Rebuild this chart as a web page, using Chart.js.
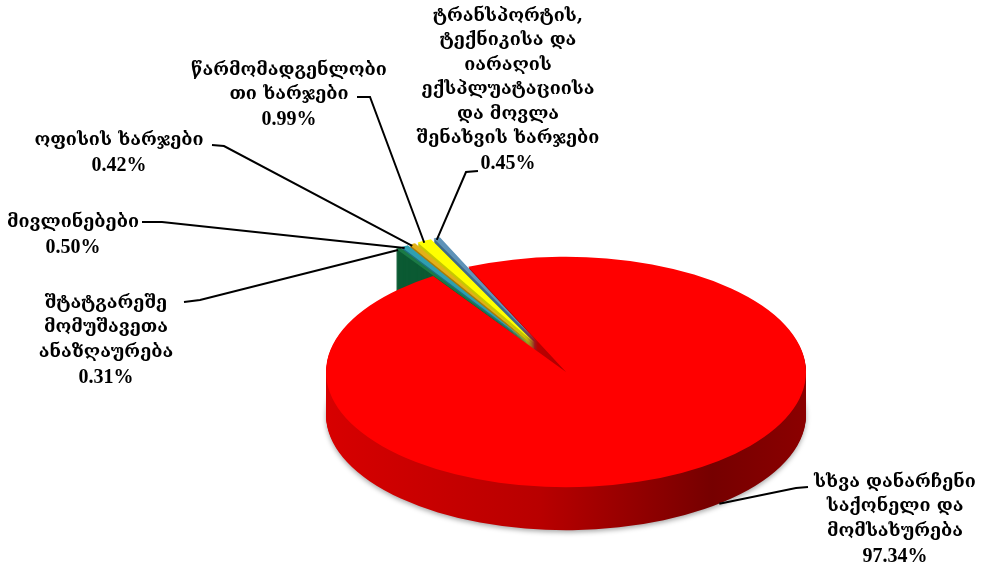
<!DOCTYPE html>
<html>
<head>
<meta charset="utf-8">
<script src="https://cdn.jsdelivr.net/npm/chart.js@4.4.1/dist/chart.umd.min.js"></script>
<style>
  html, body { margin: 0; padding: 0; background: #fff; }
  #caixa { width: 981px; height: 569px; }
</style>
</head>
<body>
<div id="caixa"><canvas id="grafico" width="981" height="569"></canvas></div>
<script>
// dados
const categorias = [
    ['სხვა დანარჩენი', 'საქონელი და', 'მომსახურება'],
    ['შტატგარეშე', 'მომუშავეთა', 'ანაზღაურება'],
    ['მივლინებები'],
    ['ოფისის ხარჯები'],
    ['წარმომადგენლობი', 'თი ხარჯები'],
    ['ტრანსპორტის,', 'ტექნიკისა და', 'იარაღის', 'ექსპლუატაციისა', 'და მოვლა', 'შენახვის ხარჯები']
];
const valores = [97.34, 0.31, 0.50, 0.42, 0.99, 0.45];
const rotulos = valores.map(v => v.toFixed(2) + '%');

// cores do topo e da lateral
const cores = ['#ff0000', '#1b7a45', '#2f9fb0', '#e2b018', '#ffff00', '#5f93b8'];
const coresLado = ['#b00000', '#0b5a33', '#1e7280', '#a87c08', '#c8c800', '#3f6a8a'];

// aparência 3D
const ACHATAMENTO = 0.48;
const PROFUNDIDADE = 43;
const CENTRO_Y = 372;
const afastamento = [0, 68, 68, 68, 68, 68];

// posição dos rótulos: centro do texto, y da 1ª linha, início e cotovelo da linha guia
const posRotulos = [
    { x: 895, y: 482, p0: [808, 487], p1: [796, 488] },
    { x: 106, y: 303, p0: [184, 302], p1: [200, 300] },
    { x: 73,  y: 222, p0: [142, 222], p1: [162, 222] },
    { x: 119, y: 140, p0: [212, 145], p1: [224, 146] },
    { x: 289, y: 70,  p0: [357, 97],  p1: [370, 97] },
    { x: 508, y: 16,  p0: [478, 171], p1: [466, 172] }
];
const ALTURA_LINHA = 24.5;

function perspectiva(ctx, centro, dy) {
    ctx.translate(0, CENTRO_Y + dy);
    ctx.scale(1, ACHATAMENTO);
    ctx.translate(0, -centro.y);
}

function geometria(a, i) {
    const p = a.getProps(['x', 'y', 'startAngle', 'endAngle', 'outerRadius']);
    const meio = (p.startAngle + p.endAngle) / 2;
    p.meio = meio;
    p.dx = Math.cos(meio) * afastamento[i];
    p.dy = Math.sin(meio) * afastamento[i];
    return p;
}

function ladoGradiente(ctx) {
    const g = ctx.createLinearGradient(320, 0, 810, 0);
    g.addColorStop(0, '#d80000');
    g.addColorStop(0.45, '#b80000');
    g.addColorStop(0.8, '#760000');
    g.addColorStop(1, '#8c0000');
    return g;
}

function desenharLado(ctx, a, i) {
    const p = geometria(a, i);
    for (let d = PROFUNDIDADE; d > 0; d--) {
        ctx.save();
        if (d === PROFUNDIDADE && i === 0) {
            ctx.shadowColor = 'rgba(0,0,0,0.35)';
            ctx.shadowBlur = 5;
            ctx.shadowOffsetY = 2;
        }
        perspectiva(ctx, p, d);
        ctx.fillStyle = i === 0 ? ladoGradiente(ctx) : coresLado[i];
        ctx.beginPath();
        ctx.moveTo(p.x + p.dx, p.y + p.dy);
        ctx.arc(p.x + p.dx, p.y + p.dy, p.outerRadius, p.startAngle, p.endAngle);
        ctx.closePath();
        ctx.fill();
        ctx.restore();
    }
}

function desenharTopo(ctx, a, i) {
    const p = geometria(a, i);
    ctx.save();
    perspectiva(ctx, p, 0);
    ctx.translate(p.dx, p.dy);
    a.draw(ctx);
    ctx.restore();
}

const pizza3d = {
    id: 'pizza3d',
    beforeDatasetsDraw(chart) {
        const ctx = chart.ctx;
        const arcs = chart.getDatasetMeta(0).data;
        desenharLado(ctx, arcs[0], 0);
        for (let i = arcs.length - 1; i >= 1; i--) desenharLado(ctx, arcs[i], i);
        desenharTopo(ctx, arcs[0], 0);
        for (let i = 1; i < arcs.length; i++) desenharTopo(ctx, arcs[i], i);
        return false;
    },
    afterDraw(chart) {
        const ctx = chart.ctx;
        const arcs = chart.getDatasetMeta(0).data;
        ctx.save();
        arcs.forEach((a, i) => {
            const p = geometria(a, i);
            const r = i === 0 ? p.outerRadius : p.outerRadius + afastamento[i];
            const ang = i === 0 ? p.meio - 0.19 : p.meio;
            const ex = p.x + Math.cos(ang) * r;
            const ey = CENTRO_Y + Math.sin(ang) * r * ACHATAMENTO + (i === 0 ? PROFUNDIDADE : 2);
            const pos = posRotulos[i];
            ctx.strokeStyle = '#000';
            ctx.lineWidth = 2;
            ctx.beginPath();
            ctx.moveTo(pos.p0[0], pos.p0[1]);
            ctx.lineTo(pos.p1[0], pos.p1[1]);
            ctx.lineTo(ex, ey);
            ctx.stroke();

            ctx.fillStyle = '#000';
            ctx.textAlign = 'center';
            ctx.textBaseline = 'middle';
            const linhas = categorias[i];
            ctx.font = 'bold 18px "DejaVu Serif", "DejaVu Sans", serif';
            linhas.forEach((t, k) => ctx.fillText(t, pos.x, pos.y + k * ALTURA_LINHA));
            ctx.font = 'bold 20px "Liberation Serif", serif';
            ctx.fillText(rotulos[i], pos.x, pos.y + linhas.length * ALTURA_LINHA + 1);
        });
        ctx.restore();
    }
};

const ctx = document.getElementById('grafico').getContext('2d');
const grafico = new Chart(ctx, {
    type: 'pie',
    data: {
        labels: categorias,
        datasets: [{
            data: valores,
            backgroundColor: cores,
            borderWidth: 0,
            radius: 240,
            clip: false
        }]
    },
    options: {
        responsive: false,
        animation: false,
        devicePixelRatio: 1,
        rotation: -24,
        layout: { padding: { left: 151 } },
        events: [],
        plugins: {
            legend: { display: false },
            tooltip: { enabled: false }
        }
    },
    plugins: [pizza3d]
});
</script>
</body>
</html>
